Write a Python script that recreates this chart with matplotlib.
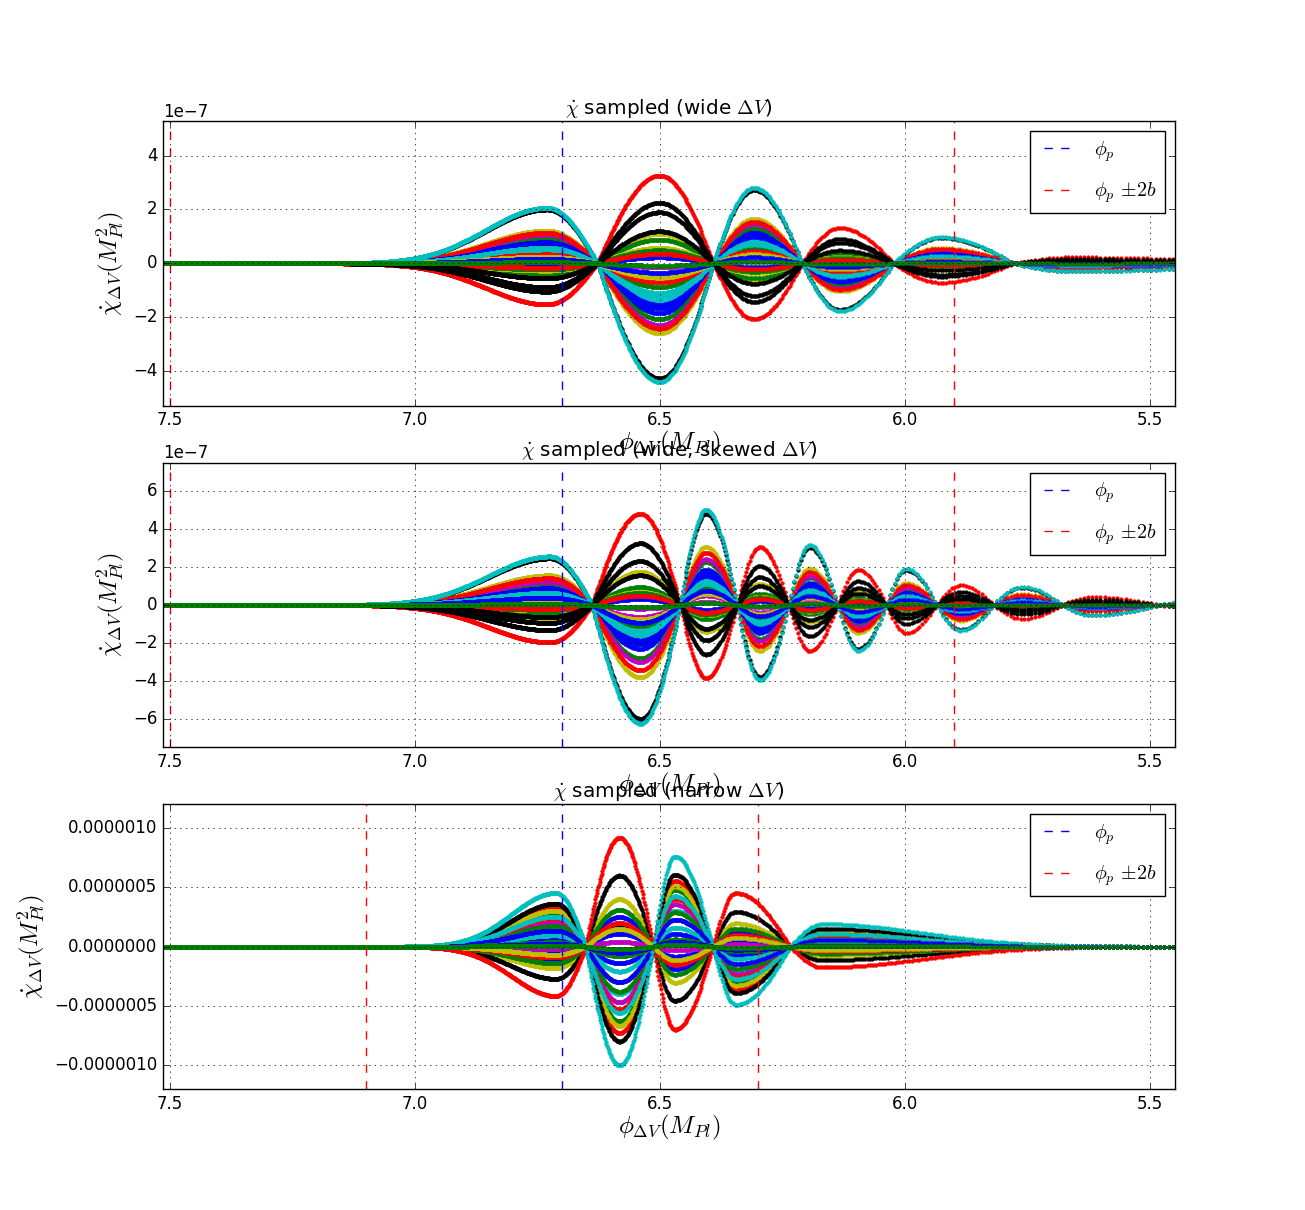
import numpy as np
import matplotlib
matplotlib.use('Agg')
import matplotlib.pyplot as plt

plt.style.use('classic')

# x range of the sampled field and sample spacing (read from dot density)
phi_range = (7.514, 5.449)
step_phi = [7.52, 6.7, 6.4, 6.0, 5.6, 5.44]
step_size = [0.0006, 0.0012, 0.002, 0.005, 0.0085, 0.009]

# wide dV: lobe peaks, zero crossings, amplitudes of the largest curve
wide_peaks = [6.73, 6.50, 6.308, 6.133, 5.927, 5.66]
wide_nodes = [6.627, 6.39, 6.209, 6.022, 5.777]
wide_amps = [2.06e-7, -4.4e-7, 2.8e-7, -1.77e-7, 0.97e-7, -0.3e-7]
wide_widths = (0.175, 0.35)

# wide, skewed dV
skew_peaks = [6.724, 6.539, 6.405, 6.296, 6.194, 6.095, 5.997, 5.886,
              5.76, 5.617, 5.43]
skew_nodes = [6.638, 6.458, 6.342, 6.236, 6.137, 6.037, 5.934, 5.818,
              5.678, 5.48]
skew_amps = [2.55e-7, -6.23e-7, 5.0e-7, -3.95e-7, 3.15e-7, -2.4e-7,
             1.9e-7, -1.35e-7, 0.95e-7, -0.55e-7, 0.12e-7]
skew_widths = (0.175, 0.06)

# narrow dV
narrow_peaks = [6.712, 6.582, 6.469, 6.345, 6.168]
narrow_nodes = [6.651, 6.513, 6.391, 6.233]
narrow_amps = [0.453e-6, -1.0e-6, 0.76e-6, -0.49e-6, 0.19e-6]
narrow_widths = (0.127, 0.288)

# relative size of each sampled curve (drawn in the b,g,r,c,m,y,k cycle)
coef_wide = [0.42, 0.47, -0.74, 0.32, 0.52, 0.59, 0.97,
             0.38, 0.2, 0.55, 0.25, -0.06, -0.25, -0.51,
             0.35, -0.2, 0.16, 0.28, 0.1, -0.13, -0.43,
             -0.05, -0.11, -0.08, 1.0, 0.03, 0.12, -0.27,
             0.08, 0.02]
coef_skew = [0.37, 0.45, -0.77, 0.28, 0.48, 0.61, 0.96,
             0.33, 0.18, 0.55, 0.22, -0.06, -0.28, -0.52,
             0.3, -0.15, 0.14, 0.25, 0.1, -0.11, -0.37,
             -0.05, -0.1, -0.08, 1.0, 0.03, 0.12, -0.25,
             0.15, 0.02]
coef_narrow = [0.14, 0.63, 0.73, 0.4, 0.47, 0.67, 0.8,
               -0.25, 0.38, 0.53, 0.56, 0.3, -0.4, -0.6,
               -0.11, -0.31, -0.92, 0.21, -0.04, 0.3, -0.17,
               0.3, 0.08, -0.2, 1.0, 0.02, -0.15, 0.05,
               0.05, 0.02]

phi_p = 6.7
two_b = [0.8, 0.8, 0.4]
titles = [r'$\dot{\chi}$ sampled (wide $\Delta V$)',
          r'$\dot{\chi}$ sampled (wide, skewed $\Delta V$)',
          r'$\dot{\chi}$ sampled (narrow $\Delta V$)']


def sample_grid():
    pts = []
    p = phi_range[0]
    while p >= phi_range[1]:
        pts.append(p)
        p -= np.interp(p, step_phi[::-1], step_size[::-1])
    return np.array(pts)


def profile(phi, peaks, nodes, amps, widths):
    """Sum of half-wave lobes between the zero crossings."""
    y = np.zeros_like(phi)
    n = len(peaks)
    for k in range(n):
        pk = peaks[k]
        left = phi >= pk
        right = ~left
        part = np.zeros_like(phi)
        if k == 0:
            part[left] = np.exp(-((phi[left] - pk) / widths[0]) ** 2)
        else:
            st = nodes[k - 1]
            m = left & (phi <= st)
            part[m] = np.cos(0.5 * np.pi * (phi[m] - pk) / (st - pk))
        if k == n - 1:
            part[right] = np.exp(-((pk - phi[right]) / widths[1]) ** 2)
        else:
            en = nodes[k]
            m = right & (phi >= en)
            part[m] = np.cos(0.5 * np.pi * (pk - phi[m]) / (pk - en))
        y += amps[k] * part
    return y


phi = sample_grid()
panels = [(wide_peaks, wide_nodes, wide_amps, wide_widths, coef_wide),
          (skew_peaks, skew_nodes, skew_amps, skew_widths, coef_skew),
          (narrow_peaks, narrow_nodes, narrow_amps, narrow_widths, coef_narrow)]

fig = plt.figure(figsize=(13.05, 12.1), dpi=100, facecolor='white')

for i, (peaks, nodes, amps, widths, coefs) in enumerate(panels):
    ax = fig.add_subplot(3, 1, i + 1)
    base = profile(phi, peaks, nodes, amps, widths)
    ymax = 0.0
    for c in coefs:
        chidot = c * base
        ax.plot(phi, chidot, '.', markersize=5)
        ymax = max(ymax, np.abs(chidot).max())

    ax.axvline(phi_p, color='b', linestyle='--', label=r'$\phi_p$')
    ax.axvline(phi_p + two_b[i], color='r', linestyle='--',
               label=r'$\phi_p$ $\pm 2b$')
    ax.axvline(phi_p - two_b[i], color='r', linestyle='--')

    ax.set_xlim(phi_range[0], phi_range[1])
    ax.set_ylim(-1.2 * ymax, 1.2 * ymax)
    ax.grid(True)
    ax.set_title(titles[i])
    ax.set_xlabel(r'$\phi_{\Delta V}(M_{Pl})$', fontsize=18, labelpad=0)
    ax.set_ylabel(r'$\dot{\chi}_{\Delta V}(M_{Pl}^2)$', fontsize=18)
    ax.legend(loc='upper right', labelspacing=0.85)

fig.savefig('out.png', dpi=100, facecolor='white')
